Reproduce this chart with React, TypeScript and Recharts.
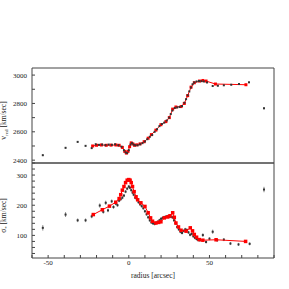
import { ComposedChart, Scatter, XAxis, YAxis, ErrorBar } from "recharts";

// radius ticks (arcsec) and the labelled ones
const radiusTicks = [-60, -50, -40, -30, -20, -10, 0, 10, 20, 30, 40, 50, 60, 70, 80, 90];
const radiusLabels = [-50, 0, 50];
const vTicks = [2400, 2500, 2600, 2700, 2800, 2900, 3000];
const vLabels = [2400, 2600, 2800, 3000];
const sigTicks = [40, 60, 80, 100, 120, 140, 160, 180, 200, 220, 240, 260, 280, 300, 320, 340];
const sigLabels = [100, 200, 300];

// observed v_red: [radius, v, err]
const vObs: [number, number, number][] = [
  [-53.3, 2435, 6], [-39.2, 2487, 6], [-31.7, 2529, 6], [-26.8, 2501, 5], [-23, 2485, 5],
  [-20.5, 2512, 4], [-18.5, 2508, 4], [-16.5, 2510, 4], [-14.5, 2506, 4], [-12.5, 2510, 4],
  [-10.5, 2508, 4], [-8.5, 2512, 4], [-6.5, 2505, 4], [-4.5, 2495, 4], [-3, 2470, 4],
  [-2, 2455, 4], [-1, 2450, 4], [0, 2470, 4], [1, 2510, 4], [2, 2520, 4], [3, 2510, 4],
  [4, 2505, 4], [5.5, 2505, 4], [7, 2512, 4], [8.5, 2520, 4], [10, 2532, 4], [11.5, 2548, 4],
  [13, 2565, 4], [14.5, 2578, 4], [16, 2600, 4], [17.5, 2618, 4], [19, 2640, 4], [20.5, 2655, 4],
  [22, 2665, 4], [23.5, 2680, 4], [25, 2700, 4], [26, 2725, 4], [27, 2750, 4], [28.5, 2768, 4],
  [30, 2772, 4], [31.5, 2775, 4], [33, 2782, 4], [34.5, 2805, 4], [35.5, 2830, 4], [36.5, 2858, 4],
  [37.5, 2885, 4], [38.5, 2912, 4], [39.5, 2935, 4], [40.5, 2948, 4], [42, 2955, 4], [43.5, 2958, 4],
  [45, 2957, 4], [46.5, 2955, 4], [48.5, 2948, 4], [52, 2923, 5], [55.2, 2925, 5], [58.9, 2928, 5],
  [63.5, 2932, 5], [68.3, 2937, 5], [74.5, 2949, 5], [83.8, 2766, 8],
];

// model v_red: [radius, v]
const vModel: [number, number][] = [
  [-22.4, 2500], [-20, 2505], [-17, 2507], [-14, 2505], [-11, 2506], [-8, 2507], [-6, 2505],
  [-4, 2490], [-2.5, 2462], [-1.5, 2450], [-0.5, 2462], [0.5, 2495], [1.5, 2522], [2.5, 2515],
  [3.5, 2505], [5, 2508], [7, 2515], [9.5, 2530], [12, 2555], [14, 2580], [16.8, 2612],
  [19.9, 2650], [23, 2672], [25.1, 2700], [27.2, 2760], [29.2, 2775], [32.4, 2778], [34.4, 2800],
  [36.5, 2855], [38.6, 2915], [40.6, 2946], [43.8, 2958], [45.9, 2962], [47.9, 2958],
  [53.7, 2937], [72.6, 2932],
];

// observed sigma_*: [radius, sigma, err]
const sigObs: [number, number, number][] = [
  [-53.3, 125, 9], [-39.2, 169, 8], [-31.7, 150, 6], [-26.8, 150, 6], [-23, 163, 6],
  [-18, 199, 7], [-15.8, 178, 6], [-14.3, 208, 7], [-12.9, 183, 6], [-10.6, 213, 6],
  [-9.5, 194, 6], [-8, 205, 5], [-7, 200, 5], [-6, 215, 5], [-5, 220, 5], [-4, 225, 5],
  [-3, 232, 5], [-2, 245, 5], [-1, 255, 5], [0, 262, 5], [0.7, 258, 5], [1.5, 250, 5],
  [2.3, 242, 5], [3, 235, 5], [4, 225, 5], [5, 220, 5], [6, 210, 5], [7, 203, 5], [8, 197, 5],
  [9, 190, 5], [10, 180, 5], [11, 170, 5], [12, 160, 5], [13, 150, 5], [14, 143, 5], [15, 140, 5],
  [16, 138, 5], [17, 142, 5], [18, 145, 5], [19, 150, 5], [20, 155, 5], [21, 158, 5], [22, 160, 5],
  [23, 162, 5], [24, 163, 5], [25, 162, 5], [26, 162, 5], [27, 160, 5], [28, 150, 5], [29, 140, 5],
  [30, 128, 5], [31, 120, 5], [32, 112, 5], [33, 108, 5], [34, 115, 5], [35, 120, 5], [36, 118, 5],
  [37, 110, 5], [38, 102, 5], [39, 105, 5], [40, 97, 5], [41, 92, 5], [42, 88, 5], [43, 85, 5],
  [44, 84, 5], [45.9, 101, 6], [47.9, 78, 5], [50, 89, 5], [52, 112, 7], [54.8, 84, 5],
  [58.9, 86, 5], [63, 73, 5], [68, 70, 5], [74.9, 72, 5], [83.8, 252, 9],
];

// model sigma_*: [radius, sigma]
const sigModel: [number, number][] = [
  [-22, 169], [-16.4, 185], [-12, 197], [-8.1, 210], [-6, 222], [-5, 235], [-4, 250], [-3, 262],
  [-2, 275], [-1, 283], [0, 285], [0.8, 283], [1.5, 275], [2.3, 262], [3.3, 245], [4.5, 228],
  [5.5, 218], [7.5, 208], [10, 196], [12, 175], [13.5, 158], [14.7, 147], [16.8, 141], [18.5, 143],
  [19.9, 145], [22, 158], [24.1, 161], [25.5, 165], [27.2, 175], [28.2, 160], [29.2, 141],
  [30.8, 128], [32.4, 117], [35.5, 114], [38.1, 125], [39.5, 115], [40.6, 103], [42, 94],
  [43.7, 86], [45.9, 84], [54.1, 85.5], [72.4, 80],
];

const AXIS = "#444";
const TXT = "#222";
const FONT = '"Liberation Serif", "DejaVu Serif", serif';

const square = (size: number, fill: string) => (p: any) =>
  <rect x={p.cx - size / 2} y={p.cy - size / 2} width={size} height={size} fill={fill} />;

const YLabel = ({ viewBox, main, sub }: any) => {
  const cx = 6;
  const cy = viewBox.y + viewBox.height / 2 + 5;
  return (
    <text transform={`translate(${cx},${cy}) rotate(-90)`} textAnchor="middle" fontSize={7.5} fill={TXT} fontFamily={FONT}>
      <tspan>{main}</tspan>
      <tspan fontSize={5} dy={2}>{sub}</tspan>
      <tspan dy={-2}> [km/sec]</tspan>
    </text>
  );
};

const tickStyle = { fontSize: 7, fill: TXT, fontFamily: FONT };

export default function App() {
  const vObsData = vObs.map(([x, y, e]) => ({ x, y, e }));
  const vModelData = vModel.map(([x, y]) => ({ x, y }));
  const sigObsData = sigObs.map(([x, y, e]) => ({ x, y, e }));
  const sigModelData = sigModel.map(([x, y]) => ({ x, y }));

  const frame = (domain: number[], ticks: number[], labels: number[], main: string, sub: string, bottomLabels: boolean) => [
    <XAxis key="xb" xAxisId={0} type="number" dataKey="x" domain={[-60, 90]} ticks={radiusTicks}
      height={bottomLabels ? 31 : 1} stroke={AXIS} tickSize={-3} tickMargin={5} interval={0}
      tick={bottomLabels ? tickStyle : false}
      tickFormatter={(v: number) => (radiusLabels.includes(v) ? String(v) : "")}
      label={bottomLabels ? { value: "radius [arcsec]", position: "insideBottom", offset: 11, fontSize: 7.5, fill: TXT, fontFamily: FONT } : undefined} />,
    <XAxis key="xt" xAxisId="t" orientation="top" type="number" domain={[-60, 90]} ticks={radiusTicks}
      height={1} stroke={AXIS} tickSize={-3} tick={false} interval={0} />,
    <YAxis key="yl" yAxisId={0} type="number" dataKey="y" domain={domain} ticks={ticks} width={32}
      stroke={AXIS} tickSize={-3} tickMargin={8} interval={0} tick={tickStyle}
      tickFormatter={(v: number) => (labels.includes(v) ? String(v) : "")}
      label={<YLabel main={main} sub={sub} />} />,
    <YAxis key="yr" yAxisId="r" orientation="right" type="number" domain={domain} ticks={ticks} width={15}
      stroke={AXIS} tickSize={-3} tick={false} interval={0} />,
  ];

  return (
    <div style={{ position: "absolute", left: 0, top: 0, width: 289, height: 289, background: "#fff" }}>
      <div style={{ position: "absolute", left: 0, top: 0 }}>
        <ComposedChart width={289} height={170} margin={{ top: 67, right: 0, bottom: 6, left: 0 }}>
          {frame([2380, 3050], vTicks, vLabels, "v", "red", false)}
          <Scatter data={vModelData} isAnimationActive={false} line={{ stroke: "#ff0000", strokeWidth: 1 }}
            shape={square(3, "#ff0000")} />
          <Scatter data={vObsData} isAnimationActive={false} shape={square(2, "#333")}>
            <ErrorBar dataKey="e" direction="y" width={0} stroke="#555" strokeWidth={0.7} />
          </Scatter>
        </ComposedChart>
      </div>
      <div style={{ position: "absolute", left: 0, top: 162 }}>
        <ComposedChart width={289} height={127} margin={{ top: 0, right: 0, bottom: 0, left: 0 }}>
          {frame([25, 340], sigTicks, sigLabels, "σ", "*", true)}
          <Scatter data={sigObsData} isAnimationActive={false} shape={square(2, "#333")}>
            <ErrorBar dataKey="e" direction="y" width={0} stroke="#555" strokeWidth={0.7} />
          </Scatter>
          <Scatter data={sigModelData} isAnimationActive={false} line={{ stroke: "#ff0000", strokeWidth: 1 }}
            shape={square(3.5, "#ff0000")} />
        </ComposedChart>
      </div>
    </div>
  );
}
